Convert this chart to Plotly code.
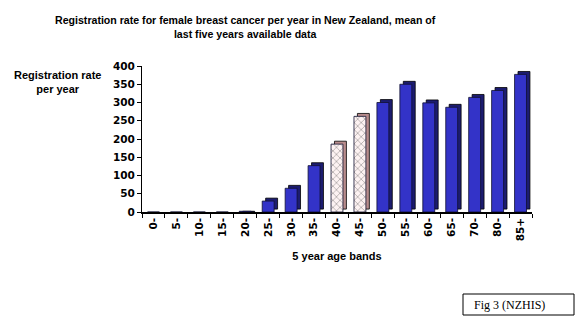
import plotly.graph_objects as go

# Age bands and mean annual registration rates
age_bands = ["0-", "5-", "10-", "15-", "20-", "25-", "30-", "35-", "40-",
             "45-", "50-", "55-", "60-", "65-", "70-", "80-", "85+"]
rates = [0, 0, 0, 0, 2, 30, 65, 127, 186, 262, 300, 350, 299, 287, 314, 333, 377]
highlight_bands = ["40-", "45-"]
y_ticks = [0, 50, 100, 150, 200, 250, 300, 350, 400]

BLUE = "#3333C8"
BLUE_DARK = "#1C1C70"
PINK = "#FDF2F2"
PINK_DARK = "#B88C8C"
HATCH = "#D04040"
FONT = "Liberation Sans"
TICK_FONT = "DejaVu Sans"

is_hl = [b in highlight_bands for b in age_bands]
front_colors = [PINK if h else BLUE for h in is_hl]
side_colors = [PINK_DARK if h else BLUE_DARK for h in is_hl]
shapes = ["x" if h else "" for h in is_hl]

bar_w = 0.52
depth_x = 0.15   # horizontal extrusion, in category units
depth_y = 8      # vertical extrusion, in data units

# empty bands get no extruded block, only the floor line
side_vals = [r if r > 0 else None for r in rates]
side_base = [depth_y if r > 5 else 0 for r in rates]

fig = go.Figure()

# extruded back face (gives side and top of the 3D bars)
fig.add_trace(go.Bar(
    x=age_bands, y=side_vals, base=side_base,
    width=bar_w, offset=-bar_w / 2 + depth_x,
    marker=dict(color=side_colors, line=dict(color="#000000", width=0.8)),
    hoverinfo="skip", showlegend=False,
))
# front face
fig.add_trace(go.Bar(
    x=age_bands, y=rates,
    width=bar_w, offset=-bar_w / 2,
    marker=dict(
        color=front_colors,
        line=dict(color="#101030", width=0.8),
        pattern=dict(shape=shapes, fgcolor=HATCH, bgcolor=PINK,
                     size=5, solidity=0.25, fillmode="overlay"),
    ),
    showlegend=False,
))

fig.update_layout(
    width=586, height=325,
    margin=dict(l=142, r=54, t=66, b=113),
    paper_bgcolor="white", plot_bgcolor="white",
    barmode="overlay",
    font=dict(family=FONT, color="black"),
    xaxis=dict(
        type="category", tickangle=-90,
        tickfont=dict(family=TICK_FONT, size=10.5, color="black", weight="bold"),
        showline=True, linecolor="#000000", linewidth=1.5,
        ticks="outside", ticklen=4, tickcolor="#000000",
        tickson="boundaries", showgrid=False,
        title=dict(text="<b>5 year age bands</b>", standoff=12,
                   font=dict(family=FONT, size=11, color="black")),
    ),
    yaxis=dict(
        range=[0, 400], tickvals=y_ticks,
        tickfont=dict(family=TICK_FONT, size=10.5, color="black", weight="bold"),
        showline=True, linecolor="#000000", linewidth=1,
        ticks="outside", ticklen=4, tickcolor="#000000",
        showgrid=False, zeroline=False,
    ),
    annotations=[
        dict(text="<b>Registration rate for female breast cancer per year in New Zealand, mean of<br>last five years available data</b>",
             xref="paper", yref="paper", x=(245 - 142) / 390, y=1 + (66 - 27) / 146,
             xanchor="center", yanchor="middle", showarrow=False, align="center",
             font=dict(family=FONT, size=10.6, color="black")),
        dict(text="<b>Registration rate<br>per year</b>",
             xref="paper", yref="paper", x=(57 - 142) / 390, y=1 - (82 - 66) / 146,
             xanchor="center", yanchor="middle", showarrow=False, align="center",
             font=dict(family=FONT, size=11, color="black")),
        dict(text="Fig 3 (NZHIS)",
             xref="paper", yref="paper", x=(472 - 142) / 390, y=-(304.5 - 212) / 146,
             xanchor="left", yanchor="middle", showarrow=False,
             font=dict(family="Liberation Serif", size=12, color="black")),
    ],
    shapes=[
        dict(type="rect", xref="paper", yref="paper",
             x0=(463 - 142) / 390, x1=(574 - 142) / 390,
             y0=-(315 - 212) / 146, y1=-(294 - 212) / 146,
             line=dict(color="black", width=1), fillcolor="rgba(0,0,0,0)"),
    ],
)

fig.write_html("out.html")
